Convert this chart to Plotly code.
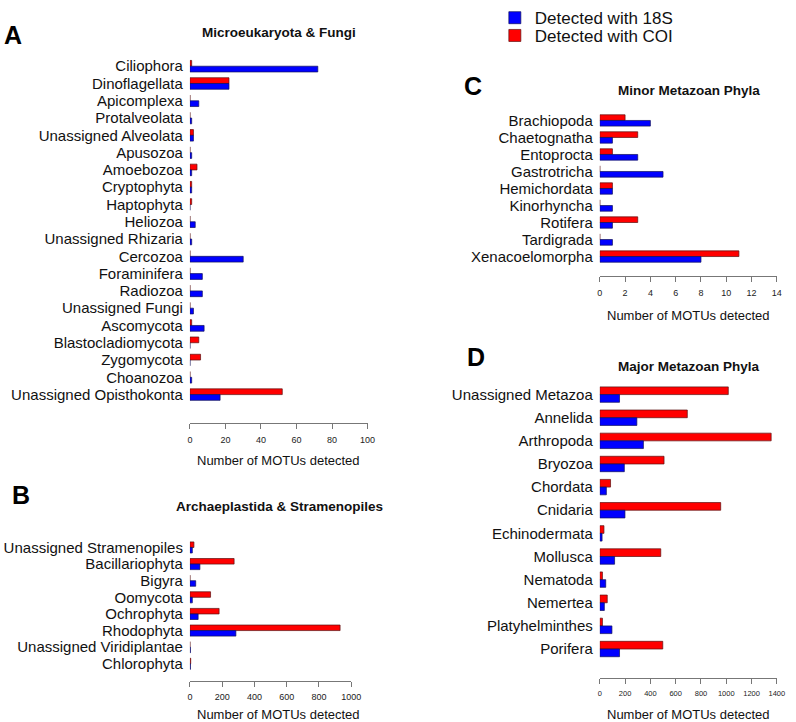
import plotly.graph_objects as go

# ---------------- data ----------------
A_cats = ["Ciliophora", "Dinoflagellata", "Apicomplexa", "Protalveolata",
          "Unassigned Alveolata", "Apusozoa", "Amoebozoa", "Cryptophyta",
          "Haptophyta", "Heliozoa", "Unassigned Rhizaria", "Cercozoa",
          "Foraminifera", "Radiozoa", "Unassigned Fungi", "Ascomycota",
          "Blastocladiomycota", "Zygomycota", "Choanozoa",
          "Unassigned Opisthokonta"]
A_18S = [72, 22, 5, 1, 2, 1, 1, 1, 0, 3, 1, 30, 7, 7, 2, 8, 0, 0, 1, 17]
A_COI = [1, 22, 0, 0, 2, 0, 4, 1, 1, 0, 0, 0, 0, 0, 0, 1, 5, 6, 0, 52]

B_cats = ["Unassigned Stramenopiles", "Bacillariophyta", "Bigyra", "Oomycota",
          "Ochrophyta", "Rhodophyta", "Unassigned Viridiplantae", "Chlorophyta"]
B_18S = [15, 62, 36, 15, 51, 285, 3, 3]
B_COI = [25, 274, 0, 128, 181, 931, 0, 5]

C_cats = ["Brachiopoda", "Chaetognatha", "Entoprocta", "Gastrotricha",
          "Hemichordata", "Kinorhyncha", "Rotifera", "Tardigrada",
          "Xenacoelomorpha"]
C_18S = [4, 1, 3, 5, 1, 1, 1, 1, 8]
C_COI = [2, 3, 1, 0, 1, 0, 3, 0, 11]

D_cats = ["Unassigned Metazoa", "Annelida", "Arthropoda", "Bryozoa", "Chordata",
          "Cnidaria", "Echinodermata", "Mollusca", "Nematoda", "Nemertea",
          "Platyhelminthes", "Porifera"]
D_18S = [156, 293, 345, 194, 52, 199, 18, 117, 47, 36, 96, 156]
D_COI = [1016, 692, 1355, 508, 85, 956, 33, 482, 21, 59, 21, 498]

panel_titles = ["Microeukaryota & Fungi", "Archaeplastida & Stramenopiles",
                "Minor Metazoan Phyla", "Major Metazoan Phyla"]
panel_letters = ["A", "B", "C", "D"]
x_title = "Number of MOTUs detected"
legend_names = ["Detected with 18S", "Detected with COI"]

# ---------------- layout helpers ----------------
W, H = 796, 722
FONT = "Liberation Sans, Arial, Helvetica, sans-serif"
BLUE, RED = "#0000FF", "#FF0000"


def fx(px):
    return px / W


def fy(py):
    return 1 - py / H


panels = [
    dict(cats=A_cats, b=A_18S, r=A_COI, x0=190, x1=370.6, yfirst=57, ylast=390,
         axis_y=419, xmax=100, dtick=20, tfs=9, title_xy=(281, 23),
         letter_xy=(10, 25), axt_xy=(280, 457)),
    dict(cats=B_cats, b=B_18S, r=B_COI, x0=190, x1=354, yfirst=545, ylast=663,
         axis_y=680, xmax=1000, dtick=200, tfs=9, title_xy=(281, 503),
         letter_xy=(18, 492), axt_xy=(280, 714)),
    dict(cats=C_cats, b=C_18S, r=C_COI, x0=606.7, x1=786.7, yfirst=112, ylast=250,
         axis_y=270, xmax=14, dtick=2, tfs=9, title_xy=(697, 82),
         letter_xy=(478, 77), axt_xy=(697, 310)),
    dict(cats=D_cats, b=D_18S, r=D_COI, x0=606.7, x1=786.7, yfirst=390, ylast=648,
         axis_y=677, xmax=1400, dtick=200, tfs=7.5, title_xy=(697, 361),
         letter_xy=(481, 352), axt_xy=(697, 714)),
]

fig = go.Figure()
annotations = []
layout_axes = {}

for i, p in enumerate(panels):
    k = "" if i == 0 else str(i + 1)
    n = len(p["cats"])
    pitch = (p["ylast"] - p["yfirst"]) / (n - 1)
    top = p["yfirst"] - pitch / 2
    bot = p["ylast"] + pitch / 2
    xa, ya = "x" + k, "y" + k

    fig.add_trace(go.Bar(
        x=p["r"], y=p["cats"], orientation="h", name=legend_names[1],
        marker=dict(color=RED, line=dict(color="#5a1010", width=0.7)),
        xaxis=xa, yaxis=ya, showlegend=(i == 0), legend="legend2"))
    fig.add_trace(go.Bar(
        x=p["b"], y=p["cats"], orientation="h", name=legend_names[0],
        marker=dict(color=BLUE, line=dict(color="#10105a", width=0.7)),
        xaxis=xa, yaxis=ya, showlegend=(i == 0), legend="legend"))

    layout_axes["xaxis" + k] = dict(
        domain=[fx(p["x0"]), fx(p["x1"])], range=[0, p["xmax"]],
        anchor="free", position=fy(p["axis_y"]),
        showline=True, linecolor="#777", linewidth=1,
        ticks="outside", ticklen=5, tickcolor="#777", tickwidth=1,
        tick0=0, dtick=p["dtick"], showgrid=False, zeroline=False,
        tickfont=dict(family=FONT, size=p["tfs"], color="#222"),
        ticklabelstandoff=3, fixedrange=True)
    layout_axes["yaxis" + k] = dict(
        domain=[fy(bot), fy(top)], range=[n - 0.5, -0.5],
        anchor=xa, showline=False, showgrid=False, zeroline=False,
        tickmode="array", tickvals=p["cats"], ticktext=p["cats"],
        ticks="", ticklabelstandoff=6,
        tickfont=dict(family=FONT, size=15, color="#111"), fixedrange=True)

    annotations.append(dict(
        text="<b>%s</b>" % panel_titles[i], x=fx(p["title_xy"][0]),
        y=fy(p["title_xy"][1]), xref="paper", yref="paper",
        xanchor="center", yanchor="middle", showarrow=False,
        font=dict(family=FONT, size=13.5, color="#111")))
    annotations.append(dict(
        text="<b>%s</b>" % panel_letters[i], x=fx(p["letter_xy"][0]),
        y=fy(p["letter_xy"][1]), xref="paper", yref="paper",
        xanchor="center", yanchor="middle", showarrow=False,
        font=dict(family=FONT, size=25, color="#000")))
    annotations.append(dict(
        text=x_title, x=fx(p["axt_xy"][0]), y=fy(p["axt_xy"][1]),
        xref="paper", yref="paper", xanchor="center", yanchor="middle",
        showarrow=False, font=dict(family=FONT, size=13, color="#111")))

legend_common = dict(xanchor="left", yanchor="top",
                     font=dict(family=FONT, size=17, color="#111"),
                     bgcolor="rgba(0,0,0,0)", itemwidth=30)

fig.update_layout(
    width=W, height=H, margin=dict(l=0, r=0, t=0, b=0),
    paper_bgcolor="white", plot_bgcolor="white",
    barmode="group", bargap=1 / 3, bargroupgap=0,
    font=dict(family=FONT),
    legend=dict(x=fx(500), y=fy(-10), **legend_common),
    legend2=dict(x=fx(500), y=fy(8), **legend_common),
    annotations=annotations,
    **layout_axes,
)

fig.write_html("out.html", config={"displayModeBar": False},
               post_script="document.body.style.margin='0';")
